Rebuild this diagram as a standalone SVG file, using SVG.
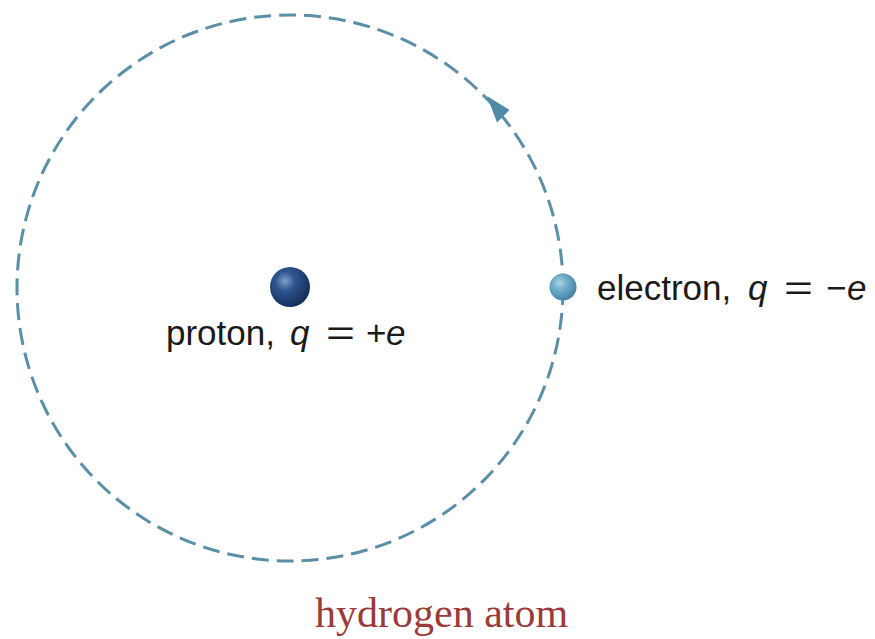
<svg xmlns="http://www.w3.org/2000/svg" width="875" height="639" viewBox="0 0 875 639">
<defs>
<radialGradient id="gProton" cx="0.38" cy="0.35" r="0.7">
<stop offset="0" stop-color="#7f9fcb"/>
<stop offset="0.35" stop-color="#2f5590"/>
<stop offset="1" stop-color="#142a55"/>
</radialGradient>
<radialGradient id="gElectron" cx="0.38" cy="0.35" r="0.7">
<stop offset="0" stop-color="#a8d2e4"/>
<stop offset="0.45" stop-color="#6aa9c6"/>
<stop offset="1" stop-color="#3f7f9e"/>
</radialGradient>
<style>
.orbit{fill:none;stroke:#5a8fa7;stroke-width:3;stroke-dasharray:17 8}
.lbl{font-family:"Liberation Sans",Arial,sans-serif;font-size:35px;fill:#1a1a1a}
.it{font-style:italic}
.title{font-family:"Liberation Serif","Times New Roman",serif;font-size:42px;fill:#9b3a3a}
</style>
</defs>
<rect width="875" height="639" fill="#fff"/>
<g id="connectors">
<circle class="orbit" cx="290" cy="288" r="273"/>
<polygon points="487,96 509.5,110 497,122.5" fill="#4f8aa6"/>
</g>
<g id="proton">
<circle cx="290" cy="287" r="20" fill="url(#gProton)"/>
<text class="lbl" y="345"><tspan x="166">proton,</tspan><tspan class="it" x="290">q</tspan><tspan x="326" textLength="29" lengthAdjust="spacingAndGlyphs">=</tspan><tspan x="366">+</tspan><tspan class="it" x="386">e</tspan></text>
</g>
<g id="electron">
<circle cx="563" cy="287" r="13.5" fill="url(#gElectron)"/>
<text class="lbl" y="300"><tspan x="597">electron,</tspan><tspan class="it" x="748">q</tspan><tspan x="784" textLength="29" lengthAdjust="spacingAndGlyphs">=</tspan><tspan x="826">−</tspan><tspan class="it" x="847">e</tspan></text>
</g>
<g id="title">
<text class="title" x="315" y="627">hydrogen atom</text>
</g>
</svg>
